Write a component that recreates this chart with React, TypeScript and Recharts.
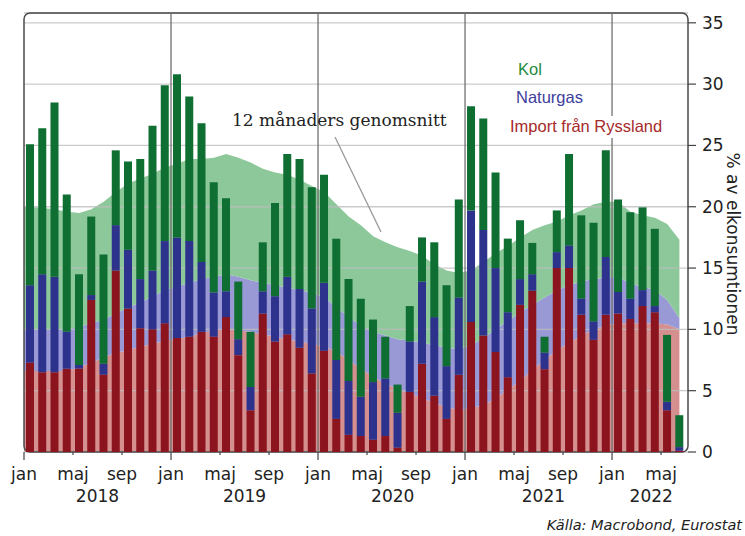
import React from 'react';
import { ComposedChart, Bar, Area, XAxis, YAxis, CartesianGrid, ReferenceLine, ReferenceArea } from 'recharts';

// Monthly values, jan 2018 .. jun 2022 (% of electricity consumption)
const importRu = [7.3, 6.5, 6.5, 6.8, 6.8, 12.4, 6.3, 14.8, 11.7, 10.1, 10.0, 10.5,
  9.3, 9.4, 9.8, 9.4, 11.0, 7.9, 3.4, 11.3, 9.0, 9.6, 8.5, 6.4,
  8.25, 2.7, 1.4, 1.3, 1.0, 1.3, 0.35, 4.9, 7.2, 4.6, 2.7, 6.3,
  10.6, 9.5, 8.15, 6.1, 12.0, 13.15, 6.75, 15.0, 15.0, 11.2, 9.15, 11.2,
  11.3, 10.85, 11.9, 11.4, 3.4, 0.1];
const naturgas = [6.3, 8.0, 7.8, 3.0, 0.3, 0.4, 0.9, 3.7, 4.8, 4.0, 4.8, 6.7,
  8.2, 7.8, 5.7, 3.6, 2.1, 1.3, 1.9, 1.8, 3.7, 4.7, 4.8, 5.3,
  5.55, 4.8, 4.4, 3.2, 4.7, 4.7, 2.85, 4.1, 6.7, 6.4, 4.3, 6.3,
  9.1, 8.6, 6.85, 5.3, 2.1, 1.35, 1.35, 1.3, 1.85, 1.3, 1.5, 4.7,
  1.75, 1.65, 1.3, 0.5, 0.7, 0.3];
const kol = [11.5, 11.9, 14.2, 11.2, 7.4, 6.4, 8.9, 6.1, 7.2, 9.8, 11.8, 12.7,
  13.3, 11.8, 11.3, 9.0, 7.6, 4.7, 4.5, 4.0, 7.6, 10.0, 10.6, 9.9,
  8.8, 9.9, 8.3, 8.0, 5.1, 3.4, 2.3, 2.9, 3.6, 6.1, 6.6, 8.0,
  8.5, 9.1, 7.8, 6.0, 4.8, 2.55, 1.3, 3.4, 7.45, 6.8, 8.05, 8.7,
  7.55, 7.05, 6.75, 6.3, 5.45, 2.6];

// 12-month moving averages
const avgImport = [6.6, 6.6, 6.6, 6.6, 6.9, 7.3, 7.7, 8.1, 8.3, 8.6, 8.8, 9.1,
  9.2, 9.4, 9.7, 9.9, 10.0, 9.9, 9.8, 9.6, 9.4, 9.2, 9.0, 8.8,
  8.6, 8.2, 7.5, 6.8, 6.1, 5.6, 5.1, 4.8, 4.4, 4.0, 3.7, 3.4,
  3.6, 3.8, 4.4, 5.1, 5.8, 6.7, 7.5, 8.3, 8.9, 9.5, 10.0, 10.3,
  10.5, 10.5, 10.5, 10.5, 10.4, 10.0];
const avgGas = [3.4, 3.4, 3.4, 3.4, 3.3, 3.2, 3.1, 3.2, 3.5, 3.6, 3.9, 4.1,
  4.3, 4.4, 4.4, 4.4, 4.5, 4.4, 4.2, 4.2, 4.2, 4.2, 4.2, 4.2,
  4.0, 3.6, 3.5, 3.5, 3.7, 3.9, 4.1, 4.3, 4.5, 4.7, 4.8, 5.0,
  5.1, 5.5, 5.6, 5.6, 5.6, 5.3, 5.1, 4.9, 4.7, 4.4, 4.1, 3.9,
  3.8, 3.2, 3.0, 2.7, 2.0, 0.9];
const avgKol = [10.0, 9.9, 9.8, 9.6, 9.3, 9.3, 9.6, 9.9, 10.1, 10.1, 10.0, 10.0,
  10.0, 10.1, 9.8, 9.7, 9.8, 9.7, 9.6, 9.3, 9.2, 9.2, 9.0, 8.7,
  8.6, 8.4, 8.2, 8.2, 7.8, 7.6, 7.5, 7.3, 7.1, 6.6, 6.3, 6.2,
  6.1, 6.2, 6.2, 6.1, 6.1, 6.1, 5.9, 5.6, 5.7, 5.8, 6.1, 6.2,
  6.1, 5.9, 5.8, 5.9, 6.2, 6.4];

const tickMonths = [0, 4, 8, 12, 16, 20, 24, 28, 32, 36, 40, 44, 48, 52];
const tickLabels = ['jan', 'maj', 'sep', 'jan', 'maj', 'sep', 'jan', 'maj', 'sep', 'jan', 'maj', 'sep', 'jan', 'maj'];
const yearStarts = [12, 24, 36, 48];
const yearCenters = [6, 18, 30.1, 42.4, 51.2];
const yearLabels = ['2018', '2019', '2020', '2021', '2022'];
const yTicks = [0, 5, 10, 15, 20, 25, 30, 35];
const xDomain = [0, 54.2];
const yDomain = [0, 35.8];

const avgData = [
  { x: 0, aImp: avgImport[0], aGas: avgGas[0], aKol: avgKol[0] },
  ...avgImport.map((v, i) => ({ x: i + 0.5, aImp: v, aGas: avgGas[i], aKol: avgKol[i] })),
];
const barData = importRu.map((v, i) => ({ x: i + 0.5, imp: v, gas: naturgas[i], kol: kol[i] }));

const FONT = 'DejaVu Sans';
const W = 745;
const H = 536;
const MARGIN = { top: 13, right: 0, bottom: 0, left: 24 };

const MonthTick = (props: any) => {
  const { x, y, payload } = props;
  const i = tickMonths.indexOf(payload.value);
  const long = yearStarts.includes(payload.value) || payload.value === 0;
  return (
    <g>
      <line x1={x} x2={x} y1={y} y2={y + (long ? 8 : 3)} stroke="#444" strokeWidth={1.2} />
      <text x={x} y={y + 28} textAnchor="middle" fontFamily={FONT} fontSize={17} fill="#222">
        {tickLabels[i]}
      </text>
    </g>
  );
};

const YearTick = (props: any) => {
  const { x, y, payload } = props;
  const i = yearCenters.indexOf(payload.value);
  return (
    <text x={x} y={y + 20} textAnchor="middle" fontFamily={FONT} fontSize={17} fill="#222">
      {yearLabels[i]}
    </text>
  );
};

const axes = (visible: boolean) => [
  <XAxis
    key="xm"
    type="number"
    dataKey="x"
    domain={xDomain}
    ticks={tickMonths}
    allowDataOverflow
    axisLine={false}
    tickLine={false}
    tickSize={0}
    tickMargin={0}
    height={30}
    tick={visible ? <MonthTick /> : false}
    interval={0}
  />,
  <XAxis
    key="xy"
    xAxisId="yr"
    type="number"
    dataKey="x"
    domain={xDomain}
    ticks={yearCenters}
    allowDataOverflow
    axisLine={false}
    tickLine={false}
    tickSize={0}
    tickMargin={0}
    height={54}
    tick={visible ? <YearTick /> : false}
    interval={0}
  />,
  <YAxis
    key="y"
    orientation="right"
    width={57}
    domain={yDomain}
    ticks={yTicks}
    allowDataOverflow
    axisLine={false}
    tickLine={visible ? { stroke: '#444', strokeWidth: 1.2 } : false}
    tickSize={8}
    tickMargin={6}
    tick={visible ? { fontFamily: FONT, fontSize: 17, fill: '#222' } : false}
    interval={0}
  />,
];

export default function App() {
  return (
    <div style={{ position: 'absolute', left: 0, top: 0, width: W, height: H, background: '#fff' }}>
      {/* Layer 1: 12-month averages */}
      <div style={{ position: 'absolute', left: 0, top: 0 }}>
        <ComposedChart width={W} height={H} data={avgData} margin={MARGIN}>
          {axes(false)}
          <Area type="linear" dataKey="aImp" stackId="avg" stroke="none" fill="#d68f8f" fillOpacity={1} isAnimationActive={false} />
          <Area type="linear" dataKey="aGas" stackId="avg" stroke="none" fill="#9999d6" fillOpacity={1} isAnimationActive={false} />
          <Area type="linear" dataKey="aKol" stackId="avg" stroke="none" fill="#8dc89a" fillOpacity={1} isAnimationActive={false} />
        </ComposedChart>
      </div>
      {/* Layer 2: grid, monthly bars, axes */}
      <div style={{ position: 'absolute', left: 0, top: 0 }}>
        <ComposedChart width={W} height={H} data={barData} margin={MARGIN}>
          <CartesianGrid vertical={false} stroke="#bdbdbd" strokeOpacity={0.8} strokeWidth={1.3} />
          {axes(true)}
          <Bar dataKey="imp" stackId="bars" fill="#8c141e" barSize={8} isAnimationActive={false} />
          <Bar dataKey="gas" stackId="bars" fill="#2d328c" barSize={8} isAnimationActive={false} />
          <Bar dataKey="kol" stackId="bars" fill="#0f6e32" barSize={8} isAnimationActive={false} />
          {yearStarts.map((m) => (
            <ReferenceLine key={m} x={m} stroke="#707070" strokeWidth={1.3} />
          ))}
          <ReferenceArea
            x1={xDomain[0]}
            x2={xDomain[1]}
            y1={yDomain[0]}
            y2={yDomain[1]}
            ifOverflow="visible"
            shape={(p: any) => (
              <rect x={p.x} y={p.y} width={p.width} height={p.height} rx={6} ry={6} fill="none" stroke="#4a4a4a" strokeWidth={1.5} />
            )}
          />
        </ComposedChart>
      </div>
      <svg width={W} height={H} style={{ position: 'absolute', left: 0, top: 0, pointerEvents: 'none' }}>
        <rect x={506} y={116} width={162} height={22} fill="#fff" />
        <text x={518} y={75} fontFamily="Liberation Sans" fontSize={16.5} fill="#1f8a3c">Kol</text>
        <text x={516} y={103} fontFamily="Liberation Sans" fontSize={16.5} fill="#3e3e9c">Naturgas</text>
        <text x={510} y={132} fontFamily="Liberation Sans" fontSize={16.5} fill="#a52a2a">Import från Ryssland</text>
        <text x={232} y={126} fontFamily="DejaVu Serif" fontSize={17} fill="#222">12 månaders genomsnitt</text>
        <line x1={335} y1={137} x2={381} y2={232} stroke="#999" strokeWidth={1.3} />
        <text
          x={733}
          y={244}
          transform="rotate(90 733 244)"
          textAnchor="middle"
          dominantBaseline="central"
          fontFamily={FONT}
          fontSize={17}
          fill="#222"
        >
          % av elkonsumtionen
        </text>
        <text x={742} y={530} textAnchor="end" fontFamily={FONT} fontStyle="italic" fontSize={14.5} fill="#222">
          Källa: Macrobond, Eurostat
        </text>
      </svg>
    </div>
  );
}
